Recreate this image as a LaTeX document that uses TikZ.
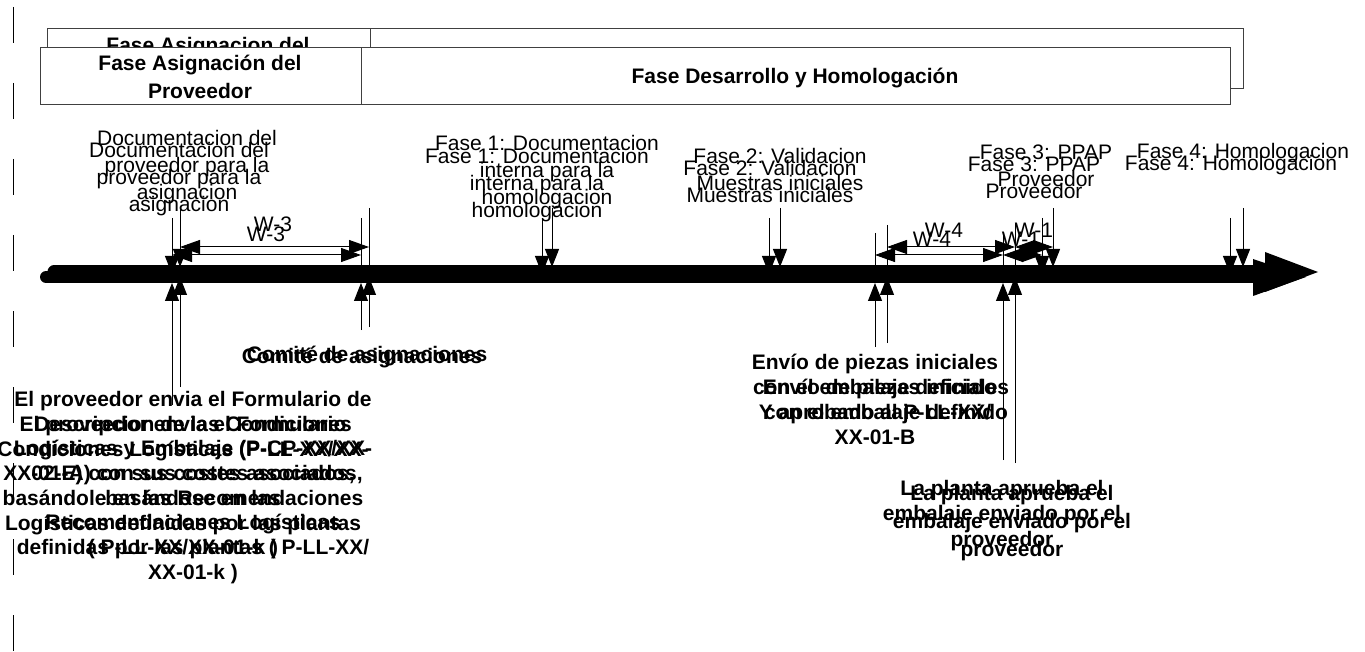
\documentclass[tikz,border=0pt]{standalone}
\usepackage{fontspec}
\setmainfont{Liberation Sans}
\usetikzlibrary{arrows.meta}
\begin{document}
\begin{tikzpicture}[x=1pt,y=-1pt,
  lbl/.style={font=\fontsize{21}{27}\selectfont, align=center, inner sep=0pt, anchor=north},
  blbl/.style={font=\bfseries\fontsize{21}{24.7}\selectfont, align=center, inner sep=0pt, anchor=north},
  hlbl/.style={font=\bfseries\fontsize{21}{28}\selectfont, align=center, inner sep=0pt, anchor=north},
  thinln/.style={line width=1pt, draw=black},
  downtip/.style={thinln, -{Triangle[length=18pt,width=14pt]}},
  dimarrow/.style={thinln, {Triangle[length=20pt,width=14pt]}-{Triangle[length=20pt,width=14pt]}},
  boxline/.style={draw=black!75, line width=1pt},
]
\useasboundingbox (0,0) rectangle (1365,652);
\fill[white] (0,0) rectangle (1365,652);

% left dashed margin line
\coordinate (m-a) at (13,7);
\coordinate (m-b) at (13,652);
\draw[thinln, dash pattern=on 36pt off 40pt] (m-a) -- (m-b);

% ghost header
\draw[boxline] (47,29) rectangle (1243,89);
\draw[boxline] (370,29) -- (370,89);
\node[hlbl] (ghA) at (208,37) {Fase Asignacion del\\Proveedor};
\node[hlbl] (ghB) at (803,57) {Fase Desarrollo y Homologacion};
% front header
\draw[boxline, fill=white] (40,48) rectangle (1230,105);
\draw[boxline] (361,48) -- (361,105);
\node[hlbl] (frA) at (200,55) {Fase Asignación del\\Proveedor};
\node[hlbl] (frB) at (795,68) {Fase Desarrollo y Homologación};

% timeline (two copies)
\coordinate (tlG-a) at (54,272);
\coordinate (tlG-b) at (1266,272);
\draw[line width=13pt, line cap=round] (tlG-a) -- (tlG-b);
\fill (1265,252) -- (1318,272) -- (1265,292) -- cycle;
\coordinate (tlF-a) at (46,277);
\coordinate (tlF-b) at (1254,277);
\draw[line width=12pt, line cap=round] (tlF-a) -- (tlF-b);
\fill (1253,259) -- (1306,277) -- (1253,296) -- cycle;

% milestone arrows from above
\foreach \n/\x/\t/\e in {docR/180/208/267, docL/172/218/274,
  fa/552/208/267, fb/542/218/274,
  fc/780/208/267, fd/769/218/274,
  fe/1053/208/267, ff/1042/218/274,
  fg/1243/208/267, fh/1230/218/274}{
  \coordinate (\n-a) at (\x,\t);
  \coordinate (\n-b) at (\x,\e);
  \draw[downtip] (\n-a) -- (\n-b);
}
% extension lines above (dimension ends)
\foreach \n/\x/\t in {comR/369/208, comL/361/218, envR/887/225, envL/875/233, plaR/1015/223, plaL/1003/232}{
  \coordinate (\n-u) at (\x,\t);
  \coordinate (\n-v) at (\x,268);
  \draw[thinln] (\n-u) -- (\n-v);
}
% milestone arrows from below
\foreach \n/\x/\bt/\e in {provR/180/387/277, provL/172/405/283,
  comR/369/327/277, comL/361/330/283,
  envR/887/343/277, envL/875/347/283,
  plaR/1015/463/277, plaL/1003/460/283}{
  \coordinate (\n-c) at (\x,\bt);
  \coordinate (\n-d) at (\x,\e);
  \draw[downtip] (\n-c) -- (\n-d);
}

% dimension arrows
\foreach \n/\xa/\xb/\y in {w3R/180/369/247, w3L/172/361/255,
  w4R/887/1015/247, w4L/875/1003/255,
  w1R/1015/1053/247, w1L/1003/1042/255}{
  \coordinate (\n-a) at (\xa,\y);
  \coordinate (\n-b) at (\xb,\y);
  \draw[dimarrow] (\n-a) -- (\n-b);
}
\node[lbl] (tw3R) at (273,217) {W-3};
\node[lbl] (tw3L) at (266,227) {W-3};
\node[lbl] (tw4R) at (944,223) {W-4};
\node[lbl] (tw4L) at (932,232) {W-4};
\node[lbl] (tw1R) at (1034,223) {W-1};
\node[lbl] (tw1L) at (1021,232) {W-1};

% upper labels
\node[lbl] (tdocR) at (187,130) {Documentacion del\\proveedor para la\\asignacion};
\node[lbl] (tdocL) at (179,142) {Documentacion del\\proveedor para la\\asignacion};
\node[lbl] (tf1R) at (547,135) {Fase 1: Documentacion\\interna para la\\homologacion};
\node[lbl] (tf1L) at (537,148) {Fase 1: Documentacion\\interna para la\\homologacion};
\node[lbl] (tf2R) at (780,148) {Fase 2: Validacion\\Muestras iniciales};
\node[lbl] (tf2L) at (770,160) {Fase 2: Validacion\\Muestras iniciales};
\node[lbl] (tf3R) at (1046,145) {Fase 3: PPAP\\Proveedor};
\node[lbl] (tf3L) at (1034,157) {Fase 3: PPAP\\Proveedor};
\node[lbl] (tf4R) at (1243,143) {Fase 4: Homologacion};
\node[lbl] (tf4L) at (1231,155) {Fase 4: Homologacion};

% lower labels
\node[blbl] (tcomR) at (367,346) {Comité de asignaciones};
\node[blbl] (tcomL) at (362,348) {Comité de asignaciones};
\node[blbl] (tprovP) at (193,391) {El proveedor envia el Formulario de\\Descripcion de las Condiciones\\Logísticas y Embalaje (P-CP-XX/XX-\\02-E) con sus costes asociados,\\basándose en las\\Recomendaciones Logísticas\\definidas por las plantas ( P-LL-XX/\\XX-01-k )};
\node[blbl] (tprovQ) at (183,416) {El proveedor envia el Formulario\\Condiciones Logísticas (P-LL-XX/XX-\\XX-01-A) con sus costes asociados,\\basándole en las Recomendaciones\\Logísticas definidas por las plantas\\( P-LL-XX/XX-01-k )};
\node[blbl, font=\bfseries\fontsize{21}{25}\selectfont] (tenv1) at (875,354) {Envío de piezas iniciales\\con el embalaje definido\\Y aprobado al P-LL-XX/\\XX-01-B};
\node[blbl, font=\bfseries\fontsize{21}{25}\selectfont] (tenv2) at (886,379) {Envío de piezas iniciales\\con el embalaje definido};
\node[blbl, font=\bfseries\fontsize{21}{25.5}\selectfont] (tpla1) at (1002,480) {La planta aprueba el\\embalaje enviado por el\\proveedor};
\node[blbl, font=\bfseries\fontsize{21}{28}\selectfont] (tpla2) at (1012,485) {La planta aprueba el\\embalaje enviado por el\\proveedor};
\end{tikzpicture}
\end{document}
